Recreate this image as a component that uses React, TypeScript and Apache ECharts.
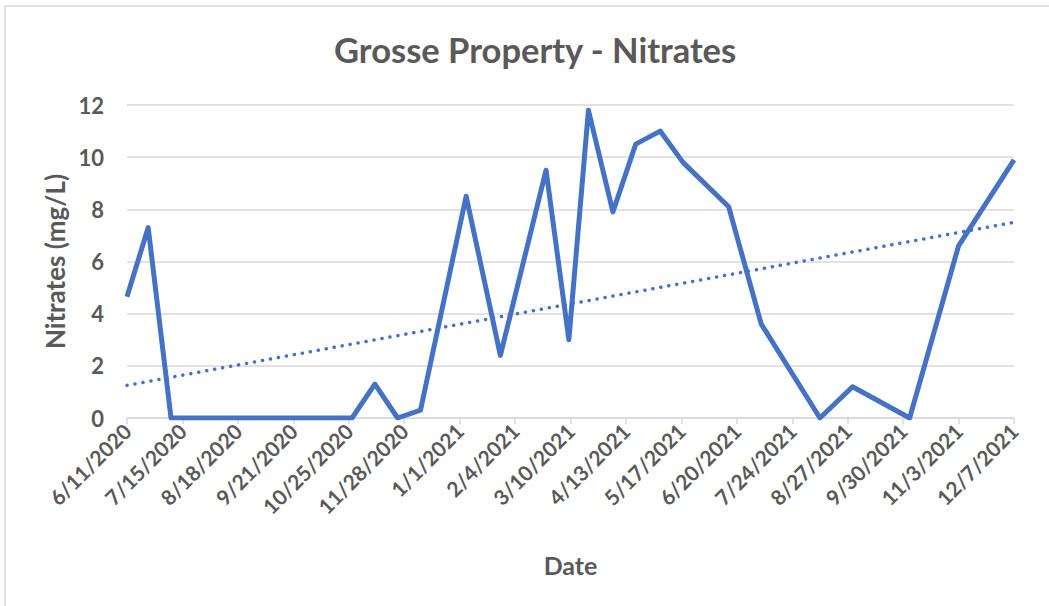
import React, { useEffect, useRef } from "react";
import * as echarts from "echarts";

const titleText = "Grosse Property - Nitrates";
const yAxisName = "Nitrates (mg/L)";
const xAxisName = "Date";

const sampleDates = [
  "2020-06-11", "2020-06-24", "2020-07-08", "2020-10-27", "2020-11-10",
  "2020-11-24", "2020-12-08", "2021-01-05", "2021-01-26", "2021-02-23",
  "2021-03-09", "2021-03-21", "2021-04-05", "2021-04-19", "2021-05-04",
  "2021-05-18", "2021-06-15", "2021-07-05", "2021-08-10", "2021-08-30",
  "2021-10-04", "2021-11-03", "2021-12-07",
];
const nitrates = [
  4.65, 7.3, 0, 0, 1.3,
  0, 0.3, 8.5, 2.4, 9.5,
  3.0, 11.8, 7.9, 10.5, 11.0,
  9.8, 8.1, 3.6, 0, 1.2,
  0, 6.6, 9.9,
];

const trendDates = ["2020-06-11", "2021-12-07"];
const trendValues = [1.25, 7.5];

const axisStart = "2020-06-11";
const axisEnd = "2021-12-07";
const tickStepDays = 34;
const yMin = 0;
const yMax = 12;
const yStep = 2;

const DAY = 86400000;
const toUTC = (s: string) => {
  const [y, m, d] = s.split("-").map(Number);
  return Date.UTC(y, m - 1, d);
};
const startMs = toUTC(axisStart);
const dayIndex = (s: string) => Math.round((toUTC(s) - startMs) / DAY);
const fmtDate = (days: number) => {
  const d = new Date(startMs + days * DAY);
  return `${d.getUTCMonth() + 1}/${d.getUTCDate()}/${d.getUTCFullYear()}`;
};

const FONT = "Lato, 'Open Sans', sans-serif";
const TXT = "#595959";
const BLUE = "#4472C4";

export default function App() {
  const ref = useRef<HTMLDivElement>(null);
  useEffect(() => {
    document.body.style.margin = "0";
    if (!ref.current) return;
    const chart = echarts.init(ref.current, undefined, { renderer: "svg" });
    const mainData = sampleDates.map((d, i) => [dayIndex(d), nitrates[i]]);
    const trendData = trendDates.map((d, i) => [dayIndex(d), trendValues[i]]);
    chart.setOption({
      animation: false,
      backgroundColor: "#ffffff",
      textStyle: { fontFamily: FONT },
      title: {
        text: titleText,
        left: 329,
        top: 27,
        textStyle: { fontFamily: FONT, fontSize: 34.5, fontWeight: "bold", color: TXT },
      },
      graphic: [
        {
          type: "rect",
          shape: { x: 5, y: 6, width: 1100, height: 700 },
          style: { fill: "none", stroke: "#d9d9d9", lineWidth: 1.5 },
          silent: true,
        },
      ],
      grid: { left: 127, right: 35, top: 105, bottom: 188, containLabel: false },
      xAxis: {
        type: "value",
        min: 0,
        max: dayIndex(axisEnd),
        interval: tickStepDays,
        name: xAxisName,
        nameLocation: "middle",
        nameGap: 134,
        nameTextStyle: { fontFamily: FONT, fontSize: 25, fontWeight: "bold", color: TXT },
        axisLine: { show: true, lineStyle: { color: "#d9d9d9", width: 1.5 } },
        axisTick: { show: true, length: 6, lineStyle: { color: "#d9d9d9", width: 1.5 } },
        splitLine: { show: false },
        axisLabel: {
          rotate: 45,
          margin: 9,
          fontFamily: FONT,
          fontSize: 21,
          fontWeight: "bold",
          color: TXT,
          formatter: (v: number) => fmtDate(v),
        },
      },
      yAxis: {
        type: "value",
        min: yMin,
        max: yMax,
        interval: yStep,
        name: yAxisName,
        nameLocation: "middle",
        nameGap: 57,
        nameTextStyle: { fontFamily: FONT, fontSize: 26, fontWeight: "bold", color: TXT },
        axisLine: { show: false },
        axisTick: { show: false },
        splitLine: { show: true, lineStyle: { color: "#d9d9d9", width: 1.5 } },
        axisLabel: {
          margin: 23,
          fontFamily: FONT,
          fontSize: 22,
          fontWeight: "bold",
          color: TXT,
        },
      },
      series: [
        {
          type: "line",
          data: mainData,
          showSymbol: false,
          symbol: "none",
          lineStyle: { color: BLUE, width: 5, join: "round" },
          z: 3,
        },
        {
          type: "line",
          data: trendData,
          showSymbol: false,
          symbol: "none",
          lineStyle: { color: BLUE, width: 3.5, type: [0.1, 8], cap: "round" },
          z: 2,
        },
      ],
    });
    return () => chart.dispose();
  }, []);
  return <div ref={ref} style={{ width: 1049, height: 606 }} />;
}
